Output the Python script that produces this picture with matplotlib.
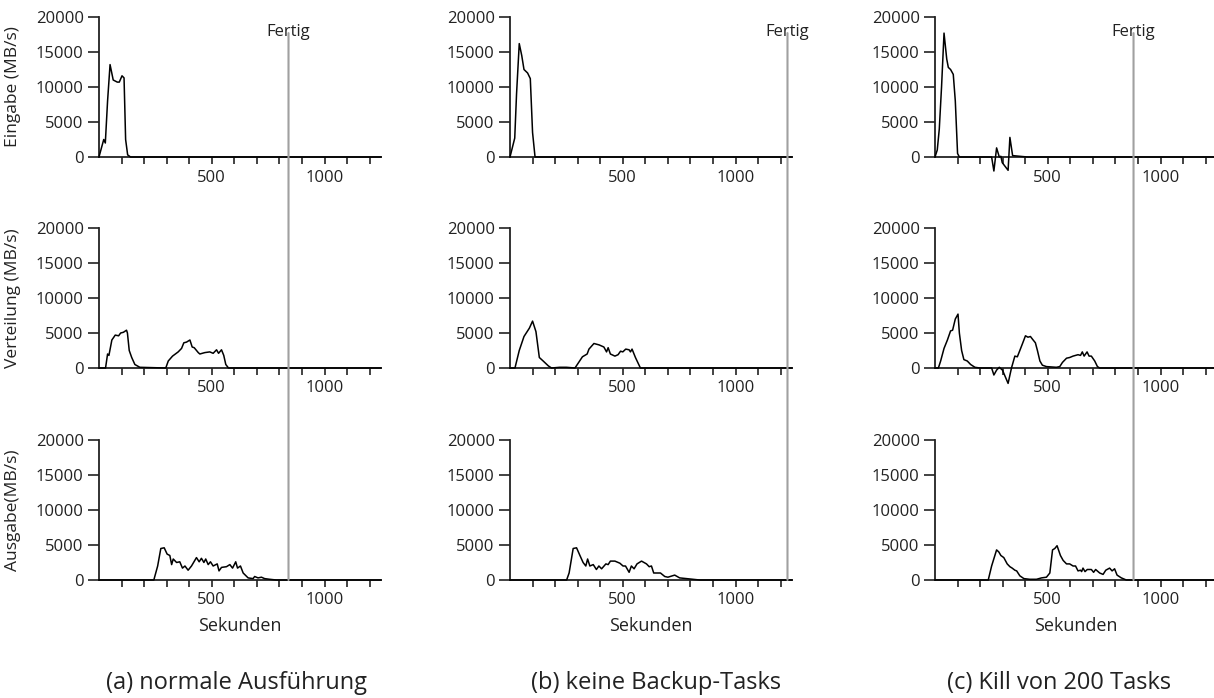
import matplotlib
matplotlib.use('Agg')
import matplotlib.pyplot as plt
from matplotlib.patches import ConnectionPatch

plt.rcParams['font.family'] = ['Open Sans', 'DejaVu Sans']

# (a) normale Ausfuehrung
a_in_t = [0, 10, 21, 28, 38, 49, 63, 81, 90, 102, 111, 118, 127, 140, 200, 1250]
a_in_v = [0, 1200, 2500, 2000, 8000, 13200, 11000, 10700, 10700, 11600, 11300, 2500, 300, 0, 0, 0]
a_sh_t = [0, 29, 38, 44, 57, 72, 87, 96, 108, 122, 126, 134, 145, 159, 181, 296, 307, 326, 351,
          366, 376, 388, 403, 413, 422, 440, 447, 469, 491, 506, 521, 530, 543, 553, 562, 574, 1250]
a_sh_v = [0, 0, 2000, 1800, 4000, 4700, 4600, 5000, 5100, 5400, 5000, 2500, 1500, 500, 100, 0, 1000,
          1700, 2300, 2800, 3600, 3700, 4000, 3000, 2900, 2200, 2000, 2200, 2300, 2100, 2600, 2100,
          2600, 1800, 500, 0, 0]
a_out_t = [0, 243, 260, 274, 289, 302, 314, 322, 329, 344, 358, 370, 381, 395, 410, 432, 444, 454,
           465, 473, 484, 494, 506, 524, 532, 543, 565, 580, 592, 606, 614, 627, 639, 661, 683, 690,
           705, 720, 734, 757, 786, 1250]
a_out_v = [0, 0, 2000, 4500, 4600, 3700, 3500, 2200, 3000, 2500, 2600, 1700, 2000, 1400, 2000, 3200,
           2600, 3100, 2500, 3000, 2200, 2600, 2000, 2300, 1300, 1800, 1900, 2200, 1700, 2600, 1700,
           2000, 1000, 300, 200, 500, 300, 400, 200, 100, 0, 0]

# (b) keine Backup-Tasks
b_in_t = [0, 21, 29, 41, 52, 62, 78, 90, 100, 111, 140, 1250]
b_in_v = [0, 2700, 9000, 16200, 14500, 12500, 12000, 11200, 3500, 0, 0, 0]
b_sh_t = [0, 22, 41, 62, 86, 100, 115, 130, 147, 170, 184, 220, 250, 288, 321, 342, 350, 372, 395,
          416, 428, 435, 445, 465, 479, 490, 500, 513, 528, 534, 541, 556, 578, 1250]
b_sh_v = [0, 0, 2500, 4500, 5700, 6700, 5200, 1500, 1000, 300, 0, 100, 100, 0, 1600, 2000, 2700,
          3500, 3300, 3000, 2300, 2900, 2000, 1700, 1900, 2400, 2300, 2700, 2600, 2300, 2700, 1500, 0, 0]
b_out_t = [0, 251, 262, 280, 295, 310, 324, 336, 344, 354, 369, 383, 394, 406, 425, 435, 445, 465,
           487, 501, 512, 528, 538, 550, 563, 583, 605, 617, 627, 637, 667, 686, 700, 730, 752, 782,
           811, 841, 1250]
b_out_v = [0, 0, 1000, 4500, 4600, 3500, 2500, 2000, 3000, 2000, 2200, 1500, 2000, 1600, 2300, 2200,
           2700, 2700, 2400, 2000, 2000, 1100, 2000, 1600, 2300, 2700, 2300, 1900, 2000, 1000, 1000,
           500, 400, 700, 300, 200, 100, 0, 0]

# (c) Kill von 200 Tasks
c_in_t = [0, 10, 19, 29, 40, 52, 59, 69, 81, 90, 100, 108, 251, 261, 273, 285, 292, 298, 324, 332,
          344, 376, 410, 1250]
c_in_v = [0, 1000, 4000, 10000, 17700, 14000, 12800, 12500, 11800, 8000, 500, 0, 0, -2000, 1300, 0,
          100, -800, -1900, 2800, 200, 100, 0, 0]
c_sh_t = [0, 15, 25, 40, 55, 69, 78, 90, 102, 108, 118, 128, 143, 158, 177, 199, 251, 261, 273,
          285, 299, 324, 339, 354, 365, 376, 388, 401, 412, 423, 435, 445, 454, 465, 476, 494, 538,
          553, 565, 583, 597, 612, 634, 645, 653, 661, 674, 683, 693, 708, 720, 730, 1250]
c_sh_v = [0, 0, 1000, 2800, 4000, 5300, 5400, 7000, 7700, 5000, 2500, 1200, 1000, 500, 100, 0, 0,
          -1000, -300, 100, -300, -2200, 0, 1700, 1600, 2500, 3500, 4600, 4400, 4500, 4000, 3600,
          2500, 1000, 400, 200, 100, 200, 800, 1400, 1500, 1700, 1900, 1800, 2300, 1700, 2300, 1700,
          1700, 1000, 200, 0, 0]
c_out_t = [0, 236, 251, 273, 283, 292, 305, 320, 332, 342, 354, 362, 376, 394, 420, 450, 472, 494,
           509, 521, 531, 541, 556, 568, 583, 597, 612, 623, 634, 645, 650, 656, 665, 675, 693, 703,
           712, 730, 745, 757, 774, 785, 796, 807, 826, 848, 1250]
c_out_v = [0, 0, 2000, 4300, 4000, 3500, 3200, 2300, 1900, 1700, 1400, 1300, 600, 200, 100, 100, 300,
           400, 1000, 4300, 4500, 4900, 3500, 2800, 2300, 2300, 2000, 2000, 1300, 1400, 1200, 1700,
           1200, 1500, 1500, 1100, 1500, 1000, 800, 1400, 1700, 1300, 1600, 700, 300, 0, 0]

ende = [840, 1230, 880]  # "Fertig"-Zeitpunkt je Lauf
captions = ['(a) normale Ausführung', '(b) keine Backup-Tasks', '(c) Kill von 200 Tasks']
caption_x = [237, 656, 1059]
ylabels = ['Eingabe (MB/s)', 'Verteilung (MB/s)', 'Ausgabe(MB/s)']

runs = [
    [(a_in_t, a_in_v), (a_sh_t, a_sh_v), (a_out_t, a_out_v)],
    [(b_in_t, b_in_v), (b_sh_t, b_sh_v), (b_out_t, b_out_v)],
    [(c_in_t, c_in_v), (c_sh_t, c_sh_v), (c_out_t, c_out_v)],
]

W, H = 1214, 698
fig = plt.figure(figsize=(W / 100, H / 100), dpi=100)

lefts = [99, 510, 935]
bottoms = [157, 368, 580]
ax_w = 282
ax_h = 140
dark = '#222222'

for col in range(3):
    axes = []
    for row in range(3):
        ax = fig.add_axes([lefts[col] / W, 1 - bottoms[row] / H, ax_w / W, ax_h / H])
        t, v = runs[col][row]
        ax.plot(t, v, color='black', lw=1.1, clip_on=False, zorder=3)
        ax.set_xlim(0, 1250)
        ax.set_ylim(0, 20000)
        ax.spines['top'].set_visible(False)
        ax.spines['right'].set_visible(False)
        for s in ['left', 'bottom']:
            ax.spines[s].set_linewidth(1.3)
            ax.spines[s].set_color(dark)
        ax.set_yticks([0, 5000, 10000, 15000, 20000])
        ax.set_xticks(range(100, 1300, 100))
        ax.set_xticklabels(['500' if x == 500 else '1000' if x == 1000 else '' for x in range(100, 1300, 100)])
        ax.tick_params(axis='y', direction='out', length=8, width=1.2, labelsize=12, colors=dark, pad=3)
        ax.tick_params(axis='x', direction='out', length=5, width=1.2, labelsize=12, colors=dark, pad=4)
        if col == 0:
            ax.set_ylabel(ylabels[row], fontsize=12.5, color=dark)
            ax.yaxis.set_label_coords(-78 / ax_w, 0.5)
        if row == 2:
            ax.set_xlabel('Sekunden', fontsize=13, color=dark, labelpad=6)
        axes.append(ax)

    # senkrechte Linie fuer "Fertig" ueber alle drei Zeilen
    con = ConnectionPatch(xyA=(ende[col], 17700), coordsA='data', axesA=axes[0],
                          xyB=(ende[col], 0), coordsB='data', axesB=axes[2],
                          color='#a0a0a0', lw=1.5, zorder=1)
    fig.add_artist(con)
    axes[0].text(ende[col], 17300, 'Fertig', ha='center', va='baseline', fontsize=12,
                 color=dark, clip_on=False)

    fig.text(caption_x[col] / W, 1 - 683 / H, captions[col], ha='center', va='center',
             fontsize=17, color=dark)

fig.savefig('out.png', dpi=100)
